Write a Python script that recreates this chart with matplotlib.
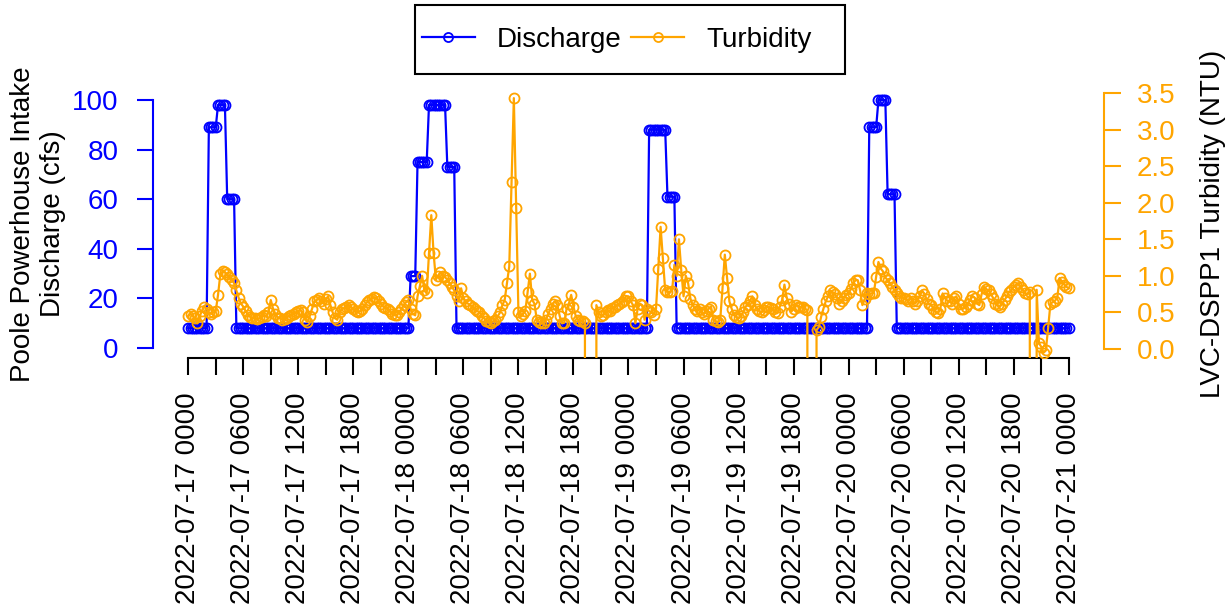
import numpy as np
import pandas as pd
import matplotlib
matplotlib.use("Agg")
import matplotlib.pyplot as plt
import matplotlib.dates as mdates
from matplotlib.patches import Rectangle

plt.rcParams['font.family'] = ['Liberation Sans', 'DejaVu Sans']

# ---------------- data ----------------
start_time = "2022-07-17 00:00"
end_time = "2022-07-21 00:00"
sample_step = "15min"

# Discharge (cfs): run-length encoded levels and number of 15-min samples
discharge_levels = [8, 89, 98, 60, 8, 29, 75, 98, 73, 8, 88, 61, 8, 89, 100, 62, 8]
discharge_counts = [9, 4, 4, 4, 76, 3, 5, 8, 4, 84, 8, 4, 84, 4, 4, 4, 76]

# Turbidity (NTU), 15-min samples; -99 = sensor drop-out (off scale)
turb_day1 = [
    0.45, 0.48, 0.45, 0.42, 0.35, 0.45, 0.52, 0.58, 0.55, 0.50, 0.48, 0.50,
    0.52, 0.74, 1.02, 1.06, 1.05, 1.02, 0.98, 0.95, 0.90, 0.80, 0.70, 0.62,
    0.58, 0.52, 0.47, 0.44, 0.42, 0.43, 0.41, 0.42, 0.44, 0.46, 0.45, 0.50,
    0.67, 0.55, 0.48, 0.43, 0.42, 0.40, 0.41, 0.43, 0.45, 0.47, 0.48, 0.50,
    0.52, 0.53, 0.50, 0.40, 0.37, 0.45, 0.55, 0.65, 0.67, 0.70, 0.66, 0.62,
    0.68, 0.72, 0.60, 0.50, 0.42, 0.40, 0.50, 0.55, 0.56, 0.58, 0.60, 0.57,
    0.55, 0.52, 0.50, 0.52, 0.55, 0.60, 0.64, 0.67, 0.69, 0.71, 0.70, 0.65,
    0.62, 0.58, 0.56, 0.55, 0.52, 0.48, 0.46, 0.47, 0.50, 0.55, 0.60, 0.64,
]
turb_day2 = [
    0.67, 0.55, 0.48, 0.46, 0.72, 0.86, 1.00, 0.80, 0.76, 1.31, 1.83, 1.31,
    0.95, 1.00, 1.05, 1.00, 0.98, 0.95, 0.90, 0.85, 0.80, 0.72, 0.65, 0.83,
    0.70, 0.65, 0.62, 0.60, 0.57, 0.55, 0.52, 0.50, 0.45, 0.42, 0.38, 0.37,
    0.36, 0.38, 0.40, 0.45, 0.50, 0.60, 0.67, 0.90, 1.13, 2.29, 3.43, 1.93,
    0.50, 0.45, 0.48, 0.52, 0.78, 1.03, 0.67, 0.62, 0.40, 0.37, 0.35, 0.36,
    0.40, 0.48, 0.55, 0.62, 0.65, 0.60, 0.45, 0.35, 0.36, 0.55, 0.62, 0.74,
    0.58, 0.45, 0.40, 0.38, 0.38, 0.35, -99, -99, -99, -99, 0.60, 0.50,
    0.45, 0.47, 0.50, 0.53, 0.52, 0.56, 0.58, 0.60, 0.62, 0.64, 0.67, 0.72,
]
turb_day3 = [
    0.72, 0.65, 0.60, 0.35, 0.55, 0.62, 0.60, 0.40, 0.55, 0.52, 0.50, 0.47,
    0.55, 1.10, 1.67, 1.24, 0.80, 0.78, 0.78, 0.79, 1.15, 1.00, 1.50, 1.08,
    0.72, 1.00, 0.90, 0.69, 0.60, 0.55, 0.52, 0.55, 0.50, 0.48, 0.52, 0.55,
    0.58, 0.40, 0.38, 0.37, 0.40, 0.83, 1.29, 0.97, 0.65, 0.55, 0.46, 0.44,
    0.42, 0.45, 0.50, 0.58, 0.60, 0.66, 0.72, 0.60, 0.55, 0.52, 0.50, 0.54,
    0.58, 0.57, 0.56, 0.55, 0.50, 0.49, 0.58, 0.67, 0.88, 0.70, 0.62, 0.51,
    0.55, 0.60, 0.58, 0.57, 0.58, 0.55, 0.53, -99, -99, -99, 0.26, 0.30,
    0.44, 0.55, 0.65, 0.72, 0.80, 0.78, 0.75, 0.70, 0.62, 0.65, 0.70, 0.74,
]
turb_day4 = [
    0.76, 0.82, 0.90, 0.94, 0.94, 0.80, 0.60, 0.68, 0.76, 0.75, 0.76, 0.77,
    0.99, 1.19, 1.10, 1.06, 0.98, 0.94, 0.90, 0.85, 0.80, 0.76, 0.72, 0.70,
    0.70, 0.68, 0.66, 0.70, 0.65, 0.62, 0.66, 0.72, 0.80, 0.75, 0.68, 0.62,
    0.60, 0.55, 0.50, 0.49, 0.55, 0.76, 0.70, 0.66, 0.65, 0.62, 0.70, 0.72,
    0.62, 0.55, 0.55, 0.58, 0.62, 0.67, 0.72, 0.70, 0.62, 0.60, 0.75, 0.85,
    0.82, 0.80, 0.75, 0.70, 0.62, 0.60, 0.58, 0.62, 0.67, 0.72, 0.78, 0.80,
    0.85, 0.88, 0.90, 0.85, 0.80, 0.76, 0.75, 0.78, -99, -99, 0.81, 0.08,
    0.03, -0.05, -0.02, 0.29, 0.62, 0.64, 0.66, 0.70, 0.97, 0.92, 0.88, 0.85,
    0.83,
]

x_tick_step = "3h"
x_tick_labels = [
    "2022-07-17 0000", "", "2022-07-17 0600", "", "2022-07-17 1200", "", "2022-07-17 1800", "",
    "2022-07-18 0000", "", "2022-07-18 0600", "", "2022-07-18 1200", "", "2022-07-18 1800", "",
    "2022-07-19 0000", "", "2022-07-19 0600", "", "2022-07-19 1200", "", "2022-07-19 1800", "",
    "2022-07-20 0000", "", "2022-07-20 0600", "", "2022-07-20 1200", "", "2022-07-20 1800", "",
    "2022-07-21 0000",
]
left_ticks = [0, 20, 40, 60, 80, 100]
right_ticks = [0.0, 0.5, 1.0, 1.5, 2.0, 2.5, 3.0, 3.5]

# ---------------- build series ----------------
times = pd.date_range(start_time, end_time, freq=sample_step)
discharge = np.repeat(discharge_levels, discharge_counts)
turbidity = np.array(turb_day1 + turb_day2 + turb_day3 + turb_day4)
tick_times = pd.date_range(start_time, end_time, freq=x_tick_step)

BLUE = "#0000FF"
ORANGE = "#FFA500"
W, H = 1231, 609
FS = 20

fig = plt.figure(figsize=(W / 100, H / 100), dpi=100)
ax = fig.add_axes([153 / W, (H - 358) / H, (1104 - 153) / W, (358 - 90) / H])
ax2 = ax.twinx()
ax2.set_position(ax.get_position())

t0 = mdates.date2num(times[0])
t1 = mdates.date2num(times[-1])
span = t1 - t0
ax.set_xlim(t0 - 0.04 * span, t1 + 0.04 * span)
ax.set_ylim(-4, 104)
ax2.set_ylim(-0.123, 3.541)

mk = dict(marker="o", markersize=7.2, markerfacecolor="none", markeredgewidth=1.3)
l1, = ax.plot(times, discharge, color=BLUE, lw=1.6, **mk, label="Discharge")
l2, = ax2.plot(times, turbidity, color=ORANGE, lw=1.6, **mk, label="Turbidity")

for s in ["top", "right"]:
    ax.spines[s].set_visible(False)
for s in ["top", "left", "bottom"]:
    ax2.spines[s].set_visible(False)

ax.spines["left"].set_color(BLUE)
ax.spines["left"].set_linewidth(1.5)
ax.spines["left"].set_bounds(0, 100)
ax.spines["bottom"].set_color("black")
ax.spines["bottom"].set_linewidth(1.5)
ax.spines["bottom"].set_bounds(t0, t1)
ax2.spines["right"].set_color(ORANGE)
ax2.spines["right"].set_linewidth(1.5)
ax2.spines["right"].set_bounds(0, 3.5)

ax.set_yticks(left_ticks)
ax.set_yticklabels([str(v) for v in left_ticks])
ax.tick_params(axis="y", colors=BLUE, labelcolor=BLUE, labelsize=FS, length=11.5, width=1.5, pad=13.5)

ax2.set_yticks(right_ticks)
ax2.set_yticklabels([f"{v:.1f}" for v in right_ticks])
ax2.tick_params(axis="y", colors=ORANGE, labelcolor=ORANGE, labelsize=FS, length=12, width=1.5, pad=11.5)

ax.set_xticks(mdates.date2num(tick_times))
ax.set_xticklabels(x_tick_labels, rotation=90, ha="center", va="top")
ax.tick_params(axis="x", colors="black", labelsize=FS, length=12, width=1.5, pad=13)

fig.text(38 / W, 1 - 224 / H, "Poole Powerhouse Intake\nDischarge (cfs)", rotation=90,
         ha="center", va="center", fontsize=FS, linespacing=1.2, multialignment="center")
fig.text(1213 / W, 1 - 224 / H, "LVC-DSPP1 Turbidity (NTU)", rotation=90,
         ha="center", va="center", fontsize=FS)

# legend (R-style box with extra right padding)
fig.add_artist(Rectangle((415 / W, 1 - 74 / H), 430 / W, 69 / H, transform=fig.transFigure,
                         fill=False, edgecolor="black", linewidth=1.5))
leg = fig.legend(handles=[l1, l2], labels=["Discharge", "Turbidity"], ncol=2,
                 loc="center left", bbox_to_anchor=(415 / W, 1 - 40 / H),
                 frameon=False, fontsize=FS,
                 borderpad=0.25, handlelength=1.9, handletextpad=0.8,
                 columnspacing=0.35, borderaxespad=0)
for h in leg.legend_handles:
    h.set_markersize(6.5)

fig.savefig("out.png", dpi=100)
